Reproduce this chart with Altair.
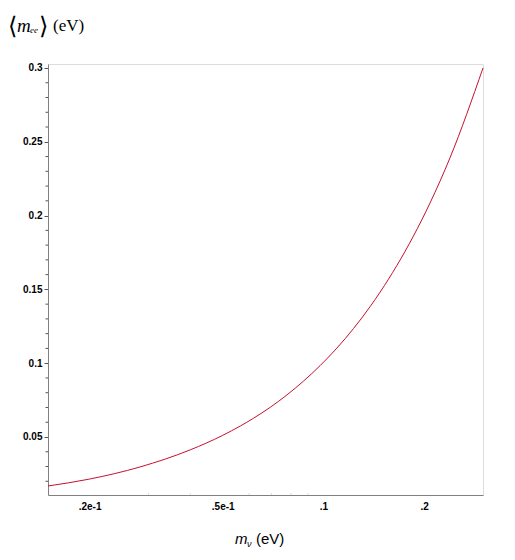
import altair as alt
import pandas as pd

# ---- data ----
m_nu = [0.01502, 0.02, 0.0283, 0.04, 0.05, 0.0564, 0.0618, 0.0778, 0.0978,
        0.1097, 0.138, 0.1478, 0.1858, 0.2083, 0.2392, 0.300]
m_ee = [0.0168, 0.0215, 0.0297, 0.0413, 0.0511, 0.0574, 0.0627, 0.0785, 0.0984,
        0.1102, 0.1384, 0.1482, 0.1861, 0.2085, 0.2393, 0.300]

x_tick_values = [0.02, 0.05, 0.1, 0.2]
x_tick_labels = [".2e-1", ".5e-1", ".1", ".2"]
x_minor_ticks = [0.03, 0.04, 0.06, 0.07, 0.08, 0.09]
y_tick_values = [0.05, 0.1, 0.15, 0.2, 0.25, 0.3]
y_tick_labels = ["0.05", "0.1", "0.15", "0.2", "0.25", "0.3"]
y_minor_ticks = [0.02, 0.03, 0.04, 0.06, 0.07, 0.08, 0.09, 0.11, 0.12, 0.13, 0.14,
                 0.16, 0.17, 0.18, 0.19, 0.21, 0.22, 0.23, 0.24, 0.26, 0.27, 0.28, 0.29]

x_domain = [0.01502, 0.300]
y_domain = [0.0107, 0.3027]

W, H = 435, 431

df = pd.DataFrame({"m_nu": m_nu, "m_ee": m_ee})

def label_expr(values, labels):
    parts = []
    for v, l in zip(values, labels):
        parts.append(f"abs(datum.value - {v}) < 1e-9 ? '{l}' : ")
    return "".join(parts) + "''"

xscale = alt.Scale(type="log", domain=x_domain, nice=False)
yscale = alt.Scale(domain=y_domain, nice=False, zero=False)

axis_gray = "#808080"

curve = alt.Chart(df).mark_line(color="#c8102e", strokeWidth=1, interpolate="monotone").encode(
    x=alt.X("m_nu:Q", scale=xscale,
            axis=alt.Axis(values=x_tick_values, labelExpr=label_expr(x_tick_values, x_tick_labels),
                          title=None, grid=False, ticks=False, tickSize=0, labelPadding=6,
                          domainColor=axis_gray, labelFont="Liberation Sans", labelFontWeight="bold",
                          labelFontSize=10, labelColor="black", labelFlush=False)),
    y=alt.Y("m_ee:Q", scale=yscale,
            axis=alt.Axis(values=y_tick_values, labelExpr=label_expr(y_tick_values, y_tick_labels),
                          title=None, grid=False, tickSize=4, tickColor="#555", labelPadding=2,
                          domainColor=axis_gray, labelFont="Liberation Sans", labelFontWeight="bold",
                          labelFontSize=10, labelColor="black", labelFlush=False)),
)

ymin = alt.Chart(pd.DataFrame({"v": y_minor_ticks})).mark_rule(color="#555", strokeWidth=1).encode(
    y=alt.Y("v:Q", scale=yscale), x=alt.value(-2.5), x2=alt.value(0)
)
xmin = alt.Chart(pd.DataFrame({"v": x_minor_ticks})).mark_rule(color="#dddddd", strokeWidth=1).encode(
    x=alt.X("v:Q", scale=xscale), y=alt.value(H - 2), y2=alt.value(H)
)

one = alt.Data(values=[{}])

def txt(t, x, y, size, font, style="normal", baseline="alphabetic", weight="normal"):
    return alt.Chart(one).mark_text(text=t, align="left", baseline=baseline, fontSize=size,
                                    font=font, fontStyle=style, fontWeight=weight,
                                    color="black").encode(
        x=alt.value(x), y=alt.value(y))

serif = "Liberation Serif"
sans = "Liberation Sans"
titles = [
    txt("⟨", -40, -37, 24, "DejaVu Serif", baseline="middle", weight="lighter"),
    txt("m", -31, -32, 19, serif, "italic"),
    txt("ee", -18, -31, 9, serif, "italic"),
    txt("⟩", -9, -37, 24, "DejaVu Serif", baseline="middle", weight="lighter"),
    txt("(eV)", 5, -33, 17, serif),
    txt("m", 187, 480, 15, sans, "italic"),
    txt("ν", 199, 483, 9, sans, "italic"),
    txt("(eV)", 208, 480, 15, sans),
]

chart = alt.layer(curve, ymin, xmin, *titles).properties(
    width=W, height=H,
    autosize=alt.AutoSizeParams(type="none"),
    padding={"left": 40, "top": 56, "right": 20, "bottom": 60},
).configure_view(stroke=None).configure(background="white")

chart.save("out.html", embed_options={"renderer": "svg", "actions": False})
